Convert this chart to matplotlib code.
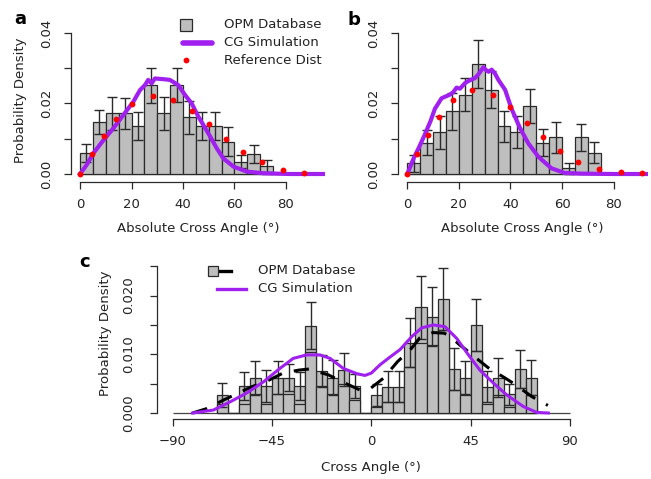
import numpy as np
import matplotlib
matplotlib.use("Agg")
import matplotlib.pyplot as plt
from matplotlib.lines import Line2D

############################################################
#                        DATA                              #
############################################################

# panels a / b : absolute cross angle, 5 degree bins
abs_bins = [2.5, 7.5, 12.5, 17.5, 22.5, 27.5, 32.5, 37.5, 42.5, 47.5,
            52.5, 57.5, 62.5, 67.5, 72.5]

opm_a = [0.0059, 0.0148, 0.0172, 0.0172, 0.0136, 0.0252, 0.0172, 0.0252,
         0.0161, 0.0136, 0.0136, 0.0092, 0.0035, 0.0057, 0.0023]
err_a = [0.0025, 0.0034, 0.0047, 0.0045, 0.0040, 0.0050, 0.0047, 0.0048,
         0.0047, 0.0040, 0.0040, 0.0040, 0.0018, 0.0026, 0.0017]
ref_a_x = [0, 4.5, 9.2, 14.0, 20.3, 28.2, 36.2, 43.4, 50.2, 56.7, 63.4, 70.8, 78.9, 87.1]
ref_a_y = [0, 0.0056, 0.0108, 0.0155, 0.0199, 0.0222, 0.0211, 0.0180, 0.0142,
           0.0100, 0.0063, 0.0033, 0.0012, 0.0004]
cg_a_x = [0, 2.6, 5.2, 9.1, 13.0, 16.8, 20.7, 23.3, 25.2, 26.5, 27.8, 29.1, 32.4,
          34.9, 38.2, 40.8, 43.4, 46.0, 48.0, 50.5, 53.1, 55.7, 59.6, 64.7, 71.2, 81.6, 96]
cg_a_y = [0, 0.0026, 0.0059, 0.0096, 0.0130, 0.0167, 0.0205, 0.0238, 0.0252, 0.0267,
          0.0257, 0.0271, 0.0269, 0.0267, 0.0252, 0.0224, 0.0200, 0.0162, 0.0138,
          0.0107, 0.0073, 0.0044, 0.0021, 0.0007, 0.0002, 0, 0]

opm_b = [0.0030, 0.0089, 0.0118, 0.0178, 0.0225, 0.0312, 0.0239, 0.0135,
         0.0119, 0.0193, 0.0089, 0.0104, 0.0016, 0.0104, 0.0060]
err_b = [0.0023, 0.0036, 0.0046, 0.0052, 0.0047, 0.0068, 0.0052, 0.0045,
         0.0046, 0.0047, 0.0039, 0.0044, 0.0016, 0.0038, 0.0030]
ref_b_x = [0, 3.9, 7.9, 12.4, 17.8, 25.2, 33.3, 40.0, 46.4, 52.6, 59.0, 66.3, 74.3, 82.7, 91.0]
ref_b_y = [0, 0.0057, 0.0111, 0.0163, 0.0210, 0.0239, 0.0225, 0.0190, 0.0146,
           0.0104, 0.0065, 0.0033, 0.0013, 0.0007, 0.0002]
cg_b_x = [0, 2.5, 4.5, 6.8, 9.0, 10.7, 13.3, 16.5, 17.8, 19.1, 20.4, 22.4, 23.5, 24.9,
          26.2, 27.5, 29.5, 30.5, 31.5, 32.7, 34.0, 35.3, 37.9, 40.4, 43.7, 46.9,
          50.8, 55.9, 61.0, 67.6, 80, 96]
cg_b_y = [0, 0.0045, 0.0075, 0.0112, 0.0150, 0.0185, 0.0215, 0.0225, 0.0232, 0.0245,
          0.0242, 0.0258, 0.0263, 0.0268, 0.0272, 0.0282, 0.0303, 0.0295, 0.0290,
          0.0296, 0.0285, 0.0267, 0.0239, 0.0185, 0.0130, 0.0087, 0.0049, 0.0016,
          0.0003, 0.0001, 0, 0]

# panel c : signed cross angle, 5 degree bins
cross_bins = [-67.5, -62.5, -57.5, -52.5, -47.5, -42.5, -37.5, -32.5, -27.5, -22.5,
              -17.5, -12.5, -7.5, -2.5, 2.5, 7.5, 12.5, 17.5, 22.5, 27.5, 32.5,
              37.5, 42.5, 47.5, 52.5, 57.5, 62.5, 67.5, 72.5]
opm_c = [0.0031, 0, 0.0046, 0.0060, 0.0046, 0.0060, 0.0060, 0.0046, 0.0149, 0.0072,
         0.0060, 0.0074, 0.0046, 0, 0.0031, 0.0045, 0.0045, 0.0120, 0.0180, 0.0164,
         0.0194, 0.0075, 0.0060, 0.0150, 0.0045, 0.0060, 0.0032, 0.0075, 0.0060]
opm_c_inner = [0.0016, 0, 0.0016, 0.0032, 0.0016, 0.0032, 0.0032, 0.0016, 0.0104, 0.0046,
               0.0032, 0.0049, 0.0022, 0, 0.0011, 0.0018, 0.0018, 0.0079, 0.0120, 0.0115,
               0.0141, 0.0039, 0.0031, 0.0105, 0.0016, 0.0031, 0.0011, 0.0042, 0.0031]
err_c = [0.0020, 0, 0.0024, 0.0029, 0.0027, 0.0028, 0.0023, 0.0024, 0.0040, 0.0027,
         0.0030, 0.0028, 0.0020, 0, 0.0019, 0.0027, 0.0027, 0.0041, 0.0054, 0.0050,
         0.0053, 0.0035, 0.0028, 0.0045, 0.0027, 0.0033, 0.0018, 0.0033, 0.0030]
kde_c_x = [-81, -75, -67, -62, -54, -48, -40, -33, -28, -24, -19.5, -12, -5, -1, 2, 5.4,
           12, 17.5, 22, 28, 33, 36, 40, 42.5, 49, 53, 60, 65, 72.7, 78, 80]
kde_c_y = [0.0, 0.0007, 0.0022, 0.0031, 0.0045, 0.0053, 0.0068, 0.0073, 0.0075, 0.0070,
           0.0065, 0.0051, 0.0039, 0.0040, 0.0049, 0.0059, 0.0088, 0.0107, 0.0128,
           0.0137, 0.0136, 0.0130, 0.0116, 0.0109, 0.0089, 0.0077, 0.0061, 0.0049,
           0.0028, 0.0017, 0.0013]
cg_c_x = [-81, -71.6, -64, -56.5, -48.9, -41.4, -35.4, -29.3, -23.3, -18.7, -12.7, -6.6,
          -2.9, 0, 3.9, 8.0, 13.0, 18.3, 22.8, 28.1, 33.4, 38.7, 44.0, 49.2, 55.3, 61.3,
          68.9, 75.0, 80.2]
cg_c_y = [0, 0.0005, 0.0019, 0.0034, 0.0053, 0.0076, 0.0093, 0.0099, 0.0099, 0.0093,
          0.0076, 0.0067, 0.0064, 0.0068, 0.0082, 0.0094, 0.0108, 0.0130, 0.0145, 0.0150,
          0.0147, 0.0127, 0.0099, 0.0073, 0.0051, 0.0031, 0.0011, 0.0001, 0]

abs_xticks = [0, 20, 40, 60, 80]
abs_yticks = [0, 0.01, 0.02, 0.03, 0.04]
abs_ylabels = ["0.00", "", "0.02", "", "0.04"]
cross_xticks = [-90, -45, 0, 45, 90]
cross_xlabels = ["\u221290", "\u221245", "0", "45", "90"]
cross_yticks = [0, 0.005, 0.010, 0.015, 0.020, 0.025]
cross_ylabels = ["0.000", "", "0.010", "", "0.020", ""]

############################################################
#                        STYLE                             #
############################################################

W, H = 651, 479
BAR = "#BEBEBE"
EDGE = "#2a2a2a"
PURPLE = "#A020F0"
TXT = "#222222"
FS = 9.5

plt.rcParams["font.family"] = "DejaVu Sans"
fig = plt.figure(figsize=(W / 100, H / 100), dpi=100)


def px(x, y):
    return x / W, 1 - y / H


def add_axes_px(left, top, right, bottom):
    return fig.add_axes([left / W, 1 - bottom / H, (right - left) / W, (bottom - top) / H])


def style_axes(ax, xticks, xlabels, yticks, ylabels, ypad):
    for s in ["top", "right"]:
        ax.spines[s].set_visible(False)
    for s in ["left", "bottom"]:
        ax.spines[s].set_color(EDGE)
        ax.spines[s].set_linewidth(0.9)
    ax.spines["left"].set_bounds(yticks[0], yticks[-1])
    ax.spines["bottom"].set_bounds(xticks[0], xticks[-1])
    ax.set_xticks(xticks)
    ax.set_xticklabels(xlabels)
    ax.set_yticks(yticks)
    ax.set_yticklabels(ylabels, rotation=90, va="center")
    ax.tick_params(axis="both", length=5, width=0.9, color=EDGE, labelcolor=TXT, labelsize=FS)
    ax.tick_params(axis="x", pad=6.5)
    ax.tick_params(axis="y", pad=ypad)
    ax.patch.set_alpha(0)


def abs_panel(ax, opm, err, ref_x, ref_y, cg_x, cg_y):
    ax.hlines(0, abs_xticks[0], abs_xticks[-1], color="#444444", lw=0.9, zorder=1)
    ax.bar(abs_bins, opm, width=5, color=BAR, edgecolor=EDGE, linewidth=0.9, zorder=2)
    ax.errorbar(abs_bins, opm, yerr=err, fmt="none", ecolor=EDGE, elinewidth=1.0,
                capsize=3.5, capthick=1.0, zorder=3)
    ax.plot(cg_x, cg_y, color=PURPLE, lw=3.0, solid_joinstyle="round", zorder=4)
    ax.plot(ref_x, ref_y, "o", color="red", ms=4.2, mew=0, zorder=5, clip_on=False)
    style_axes(ax, abs_xticks, [str(t) for t in abs_xticks], abs_yticks, abs_ylabels, 8.0)


############################################################
#                       PANELS                             #
############################################################

ax_a = add_axes_px(71, 27, 324.6, 182)
ax_a.set_xlim(-3.5, 95.0)
ax_a.set_ylim(-0.00227, 0.0417)
abs_panel(ax_a, opm_a, err_a, ref_a_x, ref_a_y, cg_a_x, cg_a_y)

ax_b = add_axes_px(397.7, 27, 647.5, 182)
ax_b.set_xlim(-3.72, 93.1)
ax_b.set_ylim(-0.00227, 0.0417)
abs_panel(ax_b, opm_b, err_b, ref_b_x, ref_b_y, cg_b_x, cg_b_y)

ax_c = add_axes_px(157.3, 258, 585.4, 419)
ax_c.set_xlim(-96.98, 97.0)
ax_c.set_ylim(-0.00102, 0.0264)
ax_c.hlines(0, cross_xticks[0], cross_xticks[-1], color="#444444", lw=0.9, zorder=1)
ax_c.bar(cross_bins, opm_c, width=5, color=BAR, edgecolor=EDGE, linewidth=0.9, zorder=2)
ax_c.bar(cross_bins, opm_c_inner, width=5, color=BAR, edgecolor=EDGE, linewidth=0.9, zorder=2)
has_err = [i for i, e in enumerate(err_c) if e > 0]
ax_c.errorbar([cross_bins[i] for i in has_err], [opm_c[i] for i in has_err],
              yerr=[err_c[i] for i in has_err], fmt="none", ecolor=EDGE,
              elinewidth=1.0, capsize=3.5, capthick=1.0, zorder=3)
ax_c.plot(kde_c_x, kde_c_y, color="black", lw=2.2, dashes=(5, 4), zorder=4)
ax_c.plot(cg_c_x, cg_c_y, color=PURPLE, lw=2.2, zorder=5)
style_axes(ax_c, cross_xticks, cross_xlabels, cross_yticks, cross_ylabels, 11.0)

############################################################
#                 LABELS AND LEGENDS                       #
############################################################

fig.text(*px(20.5, 18.5), "a", fontsize=13, fontweight="bold", ha="center", va="center")
fig.text(*px(354, 20), "b", fontsize=13, fontweight="bold", ha="center", va="center")
fig.text(*px(85, 262), "c", fontsize=13, fontweight="bold", ha="center", va="center")

fig.text(*px(21, 100), "Probability Density", rotation=90, fontsize=FS, color=TXT,
         ha="center", va="center")
fig.text(*px(105, 333), "Probability Density", rotation=90, fontsize=FS, color=TXT,
         ha="center", va="center")
fig.text(*px(197.8, 229), "Absolute Cross Angle (\u00b0)", fontsize=FS, color=TXT,
         ha="center", va="center")
fig.text(*px(522.6, 229), "Absolute Cross Angle (\u00b0)", fontsize=FS, color=TXT,
         ha="center", va="center")
fig.text(*px(371, 467), "Cross Angle (\u00b0)", fontsize=FS, color=TXT,
         ha="center", va="center")


def fig_line(xs, ys, **kw):
    pts = [px(x, y) for x, y in zip(xs, ys)]
    fig.add_artist(Line2D([p[0] for p in pts], [p[1] for p in pts],
                          transform=fig.transFigure, **kw))


# legend a
fig_line([185.7], [25], marker="s", ms=8, mfc=BAR, mec=EDGE, mew=0.9, ls="")
fig_line([183, 212], [43, 43], color=PURPLE, lw=4, solid_capstyle="round")
fig_line([185.7], [60], marker="o", ms=4.2, color="red", mew=0, ls="")
for yy, lab in zip([25, 43, 60], ["OPM Database", "CG Simulation", "Reference Dist"]):
    fig.text(*px(224, yy), lab, fontsize=FS, color=TXT, ha="left", va="center")

# legend c
fig_line([219, 231.5], [271, 271], color="black", lw=2.4)
fig_line([213], [271], marker="s", ms=7.5, mfc=BAR, mec=EDGE, mew=0.9, ls="")
fig_line([217, 246], [289, 289], color=PURPLE, lw=2.4)
for yy, lab in zip([271, 289], ["OPM Database", "CG Simulation"]):
    fig.text(*px(257.7, yy), lab, fontsize=FS, color=TXT, ha="left", va="center")

fig.savefig("out.png", dpi=100)
